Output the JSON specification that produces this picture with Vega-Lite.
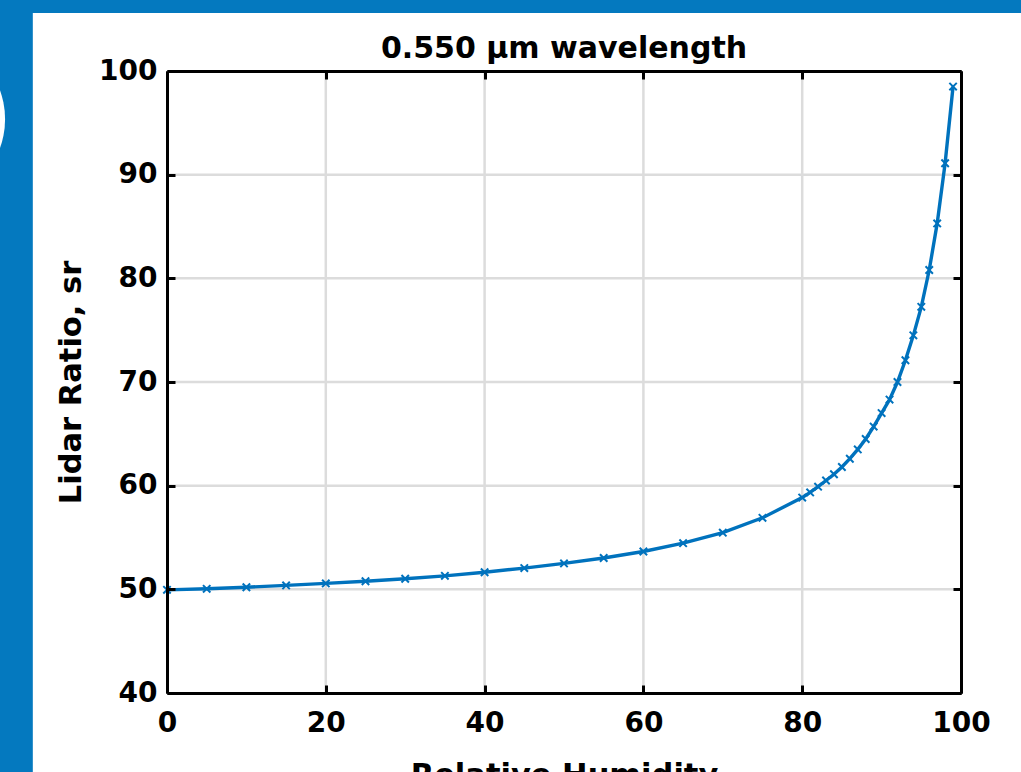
{
  "$schema": "https://vega.github.io/schema/vega-lite/v6.json",
  "width": 794,
  "height": 622,
  "autosize": {"type": "none"},
  "padding": {"left": 167, "top": 71, "right": 60, "bottom": 79},
  "background": "#0479BF",
  "config": {
    "view": {"stroke": null},
    "font": "DejaVu Sans",
    "axis": {
      "grid": false,
      "labelFlush": false,
      "labelOverlap": false,
      "domainColor": "black",
      "domainWidth": 3,
      "tickColor": "black",
      "tickWidth": 3,
      "tickSize": -8,
      "labelFont": "DejaVu Sans",
      "labelFontWeight": "bold",
      "labelFontSize": 28,
      "labelColor": "black",
      "titleFont": "DejaVu Sans",
      "titleFontWeight": "bold",
      "titleFontSize": 30.5,
      "titleColor": "black"
    }
  },
  "title": {
    "text": "0.550 μm wavelength",
    "font": "DejaVu Sans",
    "fontSize": 30,
    "fontWeight": "bold",
    "color": "black",
    "frame": "group",
    "baseline": "alphabetic",
    "offset": -75
  },
  "resolve": {"axis": {"x": "independent", "y": "independent"}},
  "layer": [
    {
      "data": {"values": [{"k": "panel"}]},
      "mark": {"type": "rect", "fill": "white", "clip": false},
      "encoding": {
        "x": {"datum": -16.9, "type": "quantitative", "scale": {"domain": [0, 100], "nice": false}, "axis": null},
        "x2": {"datum": 108},
        "y": {"datum": 32, "type": "quantitative", "scale": {"domain": [40, 100], "nice": false}, "axis": null},
        "y2": {"datum": 105.6}
      }
    },
    {
      "data": {"values": [{"k": "badge"}]},
      "mark": {"type": "point", "shape": "circle", "filled": true, "fill": "white", "opacity": 1, "size": 28900, "strokeWidth": 0, "clip": false},
      "encoding": {
        "x": {"datum": -31.1, "type": "quantitative", "scale": {"domain": [0, 100], "nice": false}, "axis": null},
        "y": {"datum": 95.35, "type": "quantitative", "scale": {"domain": [40, 100], "nice": false}, "axis": null}
      }
    },
    {
      "data": {"values": [{"v": 20}, {"v": 40}, {"v": 60}, {"v": 80}]},
      "mark": {"type": "rule", "color": "#dcdcdc", "strokeWidth": 2.5},
      "encoding": {
        "x": {"field": "v", "type": "quantitative", "scale": {"domain": [0, 100], "nice": false}, "axis": null}
      }
    },
    {
      "data": {"values": [{"v": 50}, {"v": 60}, {"v": 70}, {"v": 80}, {"v": 90}]},
      "mark": {"type": "rule", "color": "#dcdcdc", "strokeWidth": 2.5},
      "encoding": {
        "y": {"field": "v", "type": "quantitative", "scale": {"domain": [40, 100], "nice": false}, "axis": null}
      }
    },
    {
      "data": {"name": "curve"},
      "mark": {"type": "line", "color": "#0072BD", "strokeWidth": 3.4},
      "encoding": {
        "x": {"field": "rh", "type": "quantitative", "scale": {"domain": [0, 100], "nice": false},
              "axis": {"orient": "bottom", "zindex": 2, "values": [0, 20, 40, 60, 80, 100], "title": "Relative Humidity", "labelPadding": 24, "titlePadding": 23}},
        "y": {"field": "lr", "type": "quantitative", "scale": {"domain": [40, 100], "nice": false},
              "axis": {"orient": "left", "zindex": 2, "values": [40, 50, 60, 70, 80, 90, 100], "title": "Lidar Ratio, sr", "labelPadding": 18, "titlePadding": 12}}
      }
    },
    {
      "data": {"name": "curve"},
      "mark": {"type": "point", "shape": "M-1,-1L1,1M-1,1L1,-1", "filled": false, "stroke": "#0072BD", "strokeWidth": 2, "size": 55, "opacity": 1},
      "encoding": {
        "x": {"field": "rh", "type": "quantitative", "scale": {"domain": [0, 100], "nice": false},
              "axis": {"orient": "top", "zindex": 2, "values": [0, 20, 40, 60, 80, 100], "labels": false, "title": null}},
        "y": {"field": "lr", "type": "quantitative", "scale": {"domain": [40, 100], "nice": false},
              "axis": {"orient": "right", "zindex": 2, "values": [40, 50, 60, 70, 80, 90, 100], "labels": false, "title": null}}
      }
    }
  ],
  "datasets": {
    "curve": [
      {"rh": 0, "lr": 49.95},
      {"rh": 5, "lr": 50.05},
      {"rh": 10, "lr": 50.2},
      {"rh": 15, "lr": 50.38},
      {"rh": 20, "lr": 50.57},
      {"rh": 25, "lr": 50.78},
      {"rh": 30, "lr": 51.02},
      {"rh": 35, "lr": 51.3},
      {"rh": 40, "lr": 51.65},
      {"rh": 45, "lr": 52.05},
      {"rh": 50, "lr": 52.5},
      {"rh": 55, "lr": 53.02},
      {"rh": 60, "lr": 53.65},
      {"rh": 65, "lr": 54.45},
      {"rh": 70, "lr": 55.47},
      {"rh": 75, "lr": 56.9},
      {"rh": 80, "lr": 58.85},
      {"rh": 81, "lr": 59.35},
      {"rh": 82, "lr": 59.9},
      {"rh": 83, "lr": 60.5},
      {"rh": 84, "lr": 61.1},
      {"rh": 85, "lr": 61.8},
      {"rh": 86, "lr": 62.6},
      {"rh": 87, "lr": 63.5},
      {"rh": 88, "lr": 64.5},
      {"rh": 89, "lr": 65.7},
      {"rh": 90, "lr": 67.0},
      {"rh": 91, "lr": 68.3},
      {"rh": 92, "lr": 70.0},
      {"rh": 93, "lr": 72.1},
      {"rh": 94, "lr": 74.5},
      {"rh": 95, "lr": 77.25},
      {"rh": 96, "lr": 80.8},
      {"rh": 97, "lr": 85.3},
      {"rh": 98, "lr": 91.1},
      {"rh": 99, "lr": 98.5}
    ]
  }
}
